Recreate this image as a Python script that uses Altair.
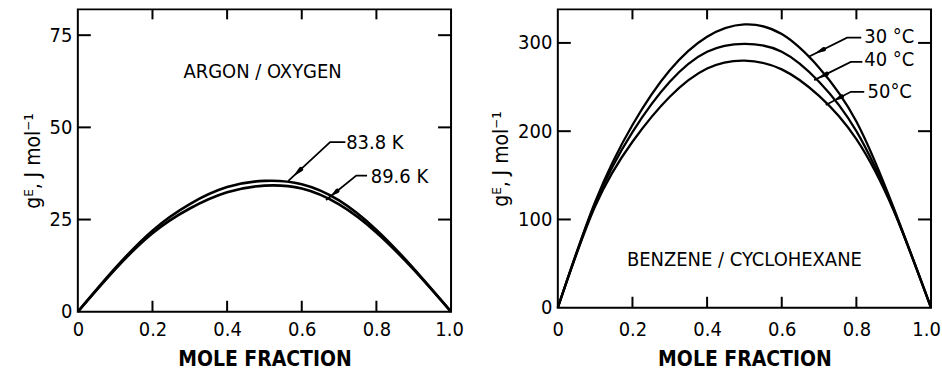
import altair as alt
import pandas as pd

# ---------------- data ----------------
mole_fraction = [0.0, 0.1, 0.2, 0.3, 0.4, 0.5, 0.6, 0.7, 0.8, 0.9, 1.0]
argon_83_8K = [0, 11.8, 22.0, 29.2, 33.8, 35.5, 34.6, 30.2, 22.2, 11.7, 0]
argon_89_6K = [0, 11.5, 21.3, 28.0, 32.4, 34.2, 33.4, 29.1, 21.5, 11.4, 0]
benzene_30C = [0, 120, 207, 269, 307, 321, 310, 272, 211, 113, 0]
benzene_40C = [0, 118, 199, 256, 290, 299, 290, 256, 200, 111, 0]
benzene_50C = [0, 115, 188, 239, 271, 280, 270, 240, 191, 110, 0]

left_series = ["83.8 K", "89.6 K"]
right_series = ["30 °C", "40 °C", "50°C"]

x_label_values = [0, 0.2, 0.4, 0.6, 0.8, 1.0]
x_inner_ticks = [0.2, 0.4, 0.6, 0.8]
left_y_label_values = [0, 25, 50, 75]
left_y_inner_ticks = [25, 50, 75]
right_y_label_values = [0, 100, 200, 300]
right_y_inner_ticks = [100, 200, 300]
left_y_max = 82
right_y_max = 338

x_title = "MOLE FRACTION"
y_title = "gᴱ, J mol⁻¹"
left_name = "ARGON / OXYGEN"
right_name = "BENZENE / CYCLOHEXANE"

# annotation anchors, in data units
left_name_x, left_name_y = [0.495], [64.9]
right_name_x, right_name_y = [0.5], [54.3]
left_label_x = [0.719, 0.785]
left_label_y = [45.7, 36.5]
right_label_x = [0.821, 0.821, 0.83]
right_label_y = [306.5, 280.5, 244.6]
left_leader_x = [[0.717, 0.676, 0.564], [0.775, 0.746, 0.665]]
left_leader_y = [[46.0, 46.0, 35.5], [36.9, 36.9, 30.3]]
right_leader_x = [[0.813, 0.775, 0.671], [0.816, 0.785, 0.687], [0.821, 0.785, 0.718]]
right_leader_y = [[306.0, 306.0, 284.0], [278.5, 278.5, 257.8], [244.6, 244.6, 229.6]]
# arrowhead base / tip as fractions along each leader's slanted part
left_arrow_base = [0.70, 0.63]
left_arrow_tip = [0.86, 0.83]
right_arrow_base = [0.60, 0.66, 0.36]
right_arrow_tip = [0.81, 0.88, 0.66]

# ---------------- styling ----------------
FONT = "DejaVu Sans Condensed"
W = 374
H_LEFT = 303
H_RIGHT = 299


def curves_frame(names, series):
    rows = []
    for name, ys in zip(names, series):
        for x, y in zip(mole_fraction, ys):
            rows.append({"x": x, "y": y, "series": name})
    return pd.DataFrame(rows)


def leaders_frame(names, xs, ys):
    rows = []
    for name, lx, ly in zip(names, xs, ys):
        for k, (a, b) in enumerate(zip(lx, ly)):
            rows.append({"x": a, "y": b, "label": name, "k": k})
    return pd.DataFrame(rows)


def arrows_frame(names, xs, ys, bases, tips):
    rows = []
    for name, lx, ly, fb, ft in zip(names, xs, ys, bases, tips):
        x0, y0, x1, y1 = lx[1], ly[1], lx[2], ly[2]
        rows.append({"x": x0 + fb * (x1 - x0), "y": y0 + fb * (y1 - y0), "w": 4.6, "id": name, "k": 0})
        rows.append({"x": x0 + ft * (x1 - x0), "y": y0 + ft * (y1 - y0), "w": 0.6, "id": name, "k": 1})
    return pd.DataFrame(rows)


def panel(names, series, ymax, y_labels, y_ticks, height,
          name_text, name_x, name_y, lab_x, lab_y, lead_x, lead_y,
          arr_base, arr_tip, curve_width, x_lab_pad, last_offset):
    xs = alt.Scale(domain=[0, 1], nice=False, zero=False)
    ys = alt.Scale(domain=[0, ymax], nice=False, zero=False)

    x_axis = alt.Axis(values=x_label_values,
                      labelExpr="datum.value == 0 ? '0' : format(datum.value, '.1f')",
                      domain=False, ticks=False, grid=False, labelPadding=x_lab_pad,
                      labelFont=FONT, labelFontSize=20, labelColor="black",
                      labelFlush=False, labelOverlap=False,
                      labelOffset={"condition": {"test": "datum.value == 1", "value": last_offset},
                                   "value": 0},
                      title=x_title, titleFont=FONT, titleFontSize=21,
                      titleFontWeight="bold", titleColor="black", titlePadding=9)
    y_axis = alt.Axis(values=y_labels, format="d",
                      domain=False, ticks=False, grid=False, labelPadding=6,
                      labelFont=FONT, labelFontSize=20, labelColor="black",
                      labelFlush=False, labelOverlap=False,
                      title=y_title, titleFont=FONT, titleFontSize=21,
                      titleFontWeight="normal", titleColor="black", titlePadding=6)

    X = lambda f: alt.X(f, scale=xs, axis=x_axis)
    Y = lambda f: alt.Y(f, scale=ys, axis=y_axis)

    lines = alt.Chart(curves_frame(names, series)).mark_line(
        color="black", strokeWidth=curve_width, interpolate="natural"
    ).encode(x=X("x:Q"), y=Y("y:Q"), detail="series:N")

    xt = pd.DataFrame({"t": x_inner_ticks})
    yt = pd.DataFrame({"t": y_ticks})
    tick_bottom = alt.Chart(xt).mark_rule(color="black", strokeWidth=2).encode(
        x=X("t:Q"), y=alt.value(height), y2=alt.value(height - 11))
    tick_top = alt.Chart(xt).mark_rule(color="black", strokeWidth=2).encode(
        x=X("t:Q"), y=alt.value(0), y2=alt.value(10))
    tick_left = alt.Chart(yt).mark_rule(color="black", strokeWidth=2).encode(
        y=Y("t:Q"), x=alt.value(0), x2=alt.value(13))
    tick_right = alt.Chart(yt).mark_rule(color="black", strokeWidth=2).encode(
        y=Y("t:Q"), x=alt.value(W), x2=alt.value(W - 13))

    name_df = pd.DataFrame({"x": name_x, "y": name_y, "t": [name_text]})
    name_mark = alt.Chart(name_df).mark_text(
        font=FONT, fontSize=20, color="black", align="center", baseline="middle"
    ).encode(x=X("x:Q"), y=Y("y:Q"), text="t:N")

    lab_df = pd.DataFrame({"x": lab_x, "y": lab_y, "t": names})
    lab_mark = alt.Chart(lab_df).mark_text(
        font=FONT, fontSize=20, color="black", align="left", baseline="middle"
    ).encode(x=X("x:Q"), y=Y("y:Q"), text="t:N")

    lead_mark = alt.Chart(leaders_frame(names, lead_x, lead_y)).mark_line(
        color="black", strokeWidth=1.8
    ).encode(x=X("x:Q"), y=Y("y:Q"), detail="label:N", order="k:Q")

    arr_mark = alt.Chart(arrows_frame(names, lead_x, lead_y, arr_base, arr_tip)).mark_trail(
        color="black"
    ).encode(x=X("x:Q"), y=Y("y:Q"), size=alt.Size("w:Q", scale=None, legend=None),
             detail="id:N", order="k:Q")

    return alt.layer(lines, tick_bottom, tick_top, tick_left, tick_right,
                     name_mark, lab_mark, lead_mark, arr_mark).properties(width=W, height=height)


left = panel(left_series, [argon_83_8K, argon_89_6K], left_y_max, left_y_label_values,
             left_y_inner_ticks, H_LEFT, left_name, left_name_x, left_name_y,
             left_label_x, left_label_y, left_leader_x, left_leader_y,
             left_arrow_base, left_arrow_tip, 2.6, 8, -2)
right = panel(right_series, [benzene_30C, benzene_40C, benzene_50C], right_y_max,
              right_y_label_values, right_y_inner_ticks, H_RIGHT, right_name,
              right_name_x, right_name_y, right_label_x, right_label_y,
              right_leader_x, right_leader_y, right_arrow_base, right_arrow_tip,
              2.3, 12, -5)

chart = alt.hconcat(left, right, spacing=24).properties(
    padding={"left": 21, "top": 7, "right": 0, "bottom": 0},
    background="white",
).configure_view(stroke="black", strokeWidth=2)

chart.save("out.html", embed_options={"renderer": "svg", "actions": False})
